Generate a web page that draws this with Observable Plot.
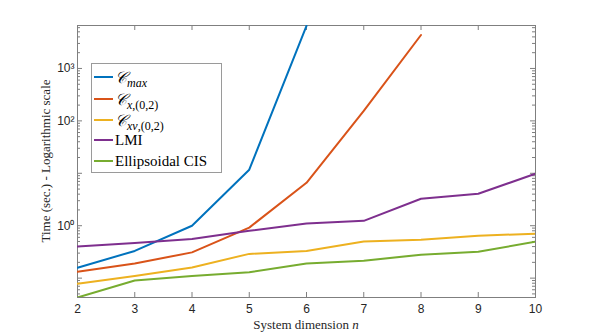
<!DOCTYPE html>
<html>
<head>
<meta charset="utf-8">
<script src="https://cdn.jsdelivr.net/npm/d3@7"></script>
<script src="https://cdn.jsdelivr.net/npm/@observablehq/plot@0.6"></script>
<style>
  body { margin: 0; background: #fff; }
  #wrap { position: relative; width: 592px; height: 335px; }
  #legend { position: absolute; left: 91px; top: 63px; width: 129px; height: 108px;
            border: 1px solid #9a9a9a; background: #fff;
            font-family: "Liberation Serif", "DejaVu Serif", serif; font-size: 15px; color: #000; }
  .row { position: absolute; left: 0; height: 21px; display: flex; align-items: center; white-space: nowrap; }
  .sw { display: inline-block; width: 19px; height: 2px; margin-left: 2px; margin-right: 2px; }
  .cal { font-family: "DejaVu Serif", serif; font-style: italic; font-size: 16px; }
  sub { font-size: 12px; vertical-align: -4px; line-height: 0; }
  .it { font-style: italic; }
</style>
</head>
<body>
<div id="wrap"></div>
<script>
// ---- data ----
const dims = [2, 3, 4, 5, 6, 7, 8, 9, 10];
const seriesNames = ["Cmax", "Cx02", "Cxv02", "LMI", "Ellipsoidal CIS"];
const seriesColors = ["#0072BD", "#D95319", "#EDB120", "#7E2F8E", "#77AC30"];
const cmax  = [0.158, 0.33, 1.0, 11.7, 6500];                       // n = 2..6
const cx02  = [0.133, 0.19, 0.31, 0.92, 6.6, 155, 4350];            // n = 2..8
const cxv02 = [0.0785, 0.11, 0.16, 0.29, 0.33, 0.5, 0.54, 0.645, 0.705];
const lmi   = [0.40, 0.47, 0.56, 0.8, 1.1, 1.24, 3.27, 4.07, 9.8];
const ellip = [0.0427, 0.09, 0.11, 0.13, 0.19, 0.215, 0.28, 0.32, 0.495];
const xTicks = [2, 3, 4, 5, 6, 7, 8, 9, 10];
const yTickLabels = [1, 100, 1000];
const yTickText = {1: "10⁰", 100: "10²", 1000: "10³"};

// ---- build table ----
const allSeries = [cmax, cx02, cxv02, lmi, ellip];
const rows = [];
allSeries.forEach((vals, i) => vals.forEach((v, j) => rows.push({series: seriesNames[i], n: dims[j], t: v})));

const yLo = 0.0427, yHi = 6600;
const W = 592, H = 335, mL = 77, mR = 57, mT = 25, mB = 38;
const pxPerDecade = (H - mT - mB) / Math.log10(yHi / yLo);
const pxPerUnit = (W - mL - mR) / 8;
const yf = len => Math.pow(10, len / pxPerDecade);
const xf = len => len / pxPerUnit;

const majorY = [], minorY = [];
for (let k = -2; k <= 4; k++) {
  for (let m = 1; m <= 9; m++) {
    const v = m * Math.pow(10, k);
    if (v >= yLo && v <= yHi) (m === 1 ? majorY : minorY).push(v);
  }
}
const tickColor = "#7f7f7f";
const MAJ = 5, MIN = 3;

const plot = Plot.plot({
  width: W, height: H,
  marginLeft: mL, marginRight: mR, marginTop: mT, marginBottom: mB,
  style: {fontFamily: "'Liberation Sans', Arial, sans-serif", fontSize: "12px", color: "#262626", background: "#fff"},
  x: {domain: [2, 10], axis: null},
  y: {type: "log", domain: [yLo, yHi], axis: null},
  color: {domain: seriesNames, range: seriesColors},
  marks: [
    // tick marks (inward, on all four sides)
    Plot.ruleX(xTicks, {x: d => d, y1: yLo, y2: yLo * yf(MAJ), stroke: tickColor}),
    Plot.ruleX(xTicks, {x: d => d, y1: yHi, y2: yHi / yf(MAJ), stroke: tickColor}),
    Plot.ruleY(majorY, {y: d => d, x1: 2, x2: 2 + xf(MAJ), stroke: tickColor}),
    Plot.ruleY(minorY, {y: d => d, x1: 2, x2: 2 + xf(MIN), stroke: tickColor}),
    Plot.ruleY(majorY, {y: d => d, x1: 10, x2: 10 - xf(MAJ), stroke: tickColor}),
    Plot.ruleY(minorY, {y: d => d, x1: 10, x2: 10 - xf(MIN), stroke: tickColor}),
    Plot.frame({stroke: tickColor}),
    Plot.axisX(xTicks, {tickSize: 0, tickPadding: 7, label: null, fill: "#262626", fontSize: 12}),
    Plot.axisY(yTickLabels, {tickSize: 0, tickPadding: 3, label: null, tickFormat: d => yTickText[d], fill: "#262626", fontSize: 12}),
    Plot.line(rows, {x: "n", y: "t", z: "series", stroke: "series", strokeWidth: 2, clip: true})
  ]
});

const wrap = document.getElementById("wrap");
wrap.appendChild(plot);

// axis titles
const svg = d3.select(plot);
svg.append("text")
  .attr("transform", `translate(50,${(mT + H - mB) / 2}) rotate(-90)`)
  .attr("text-anchor", "middle")
  .attr("font-family", "'Liberation Serif', 'DejaVu Serif', serif")
  .attr("font-size", 13).attr("fill", "#262626")
  .text("Time (sec.) - Logarithmic scale");
const xl = svg.append("text")
  .attr("x", (mL + W - mR) / 2).attr("y", 329)
  .attr("text-anchor", "middle")
  .attr("font-family", "'Liberation Serif', 'DejaVu Serif', serif")
  .attr("font-size", 13).attr("fill", "#262626");
xl.append("tspan").text("System dimension ");
xl.append("tspan").attr("font-style", "italic").text("n");

// legend
const legendHtml = [
  `<span class="cal">𝒞</span><sub class="it">max</sub>`,
  `<span class="cal">𝒞</span><sub><span class="it">x</span>,(0,2)</sub>`,
  `<span class="cal">𝒞</span><sub><span class="it">xv</span>,(0,2)</sub>`,
  `LMI`,
  `Ellipsoidal CIS`
];
const legend = document.createElement("div");
legend.id = "legend";
const centers = [77, 99, 120, 140, 161];
seriesNames.forEach((s, i) => {
  const r = document.createElement("div");
  r.className = "row";
  r.style.top = (centers[i] - 64 - 10.5) + "px";
  r.innerHTML = `<span class="sw" style="background:${seriesColors[i]}"></span><span>${legendHtml[i]}</span>`;
  legend.appendChild(r);
});
wrap.appendChild(legend);
</script>
</body>
</html>
